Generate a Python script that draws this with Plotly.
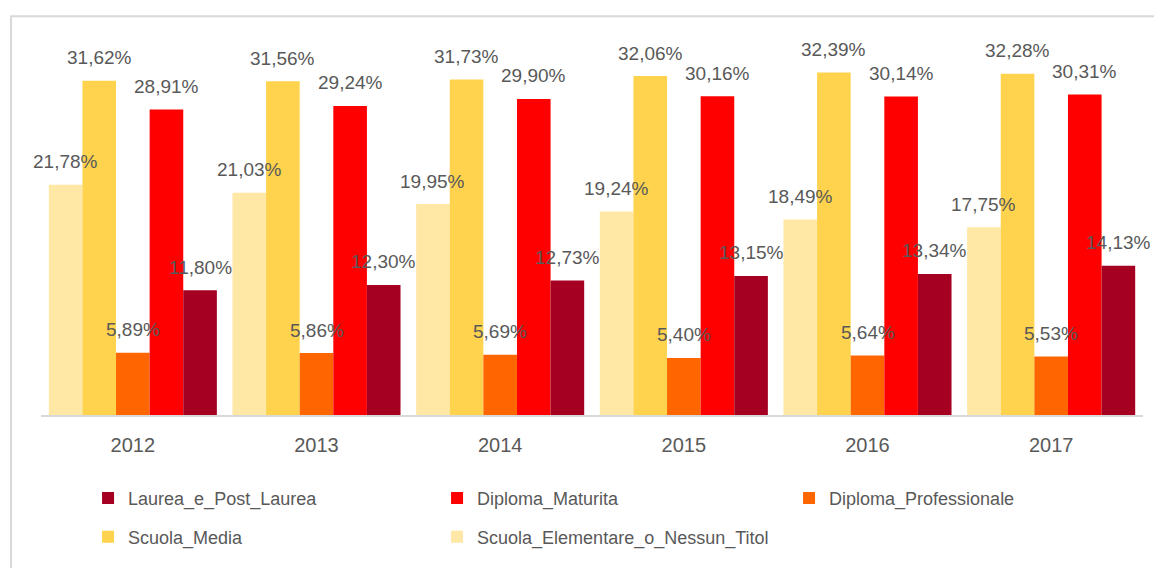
import plotly.graph_objects as go

# ── Data ──────────────────────────────────────────────────────────────────────
years = ['2012', '2013', '2014', '2015', '2016', '2017']

# bar order inside each year group (left → right)
series_names = [
    'Scuola_Elementare_o_Nessun_Titol',
    'Scuola_Media',
    'Diploma_Professionale',
    'Diploma_Maturita',
    'Laurea_e_Post_Laurea',
]

elementare   = [21.78, 21.03, 19.95, 19.24, 18.49, 17.75]
media        = [31.62, 31.56, 31.73, 32.06, 32.39, 32.28]
professional = [5.89, 5.86, 5.69, 5.40, 5.64, 5.53]
maturita     = [28.91, 29.24, 29.90, 30.16, 30.14, 30.31]
laurea       = [11.80, 12.30, 12.73, 13.15, 13.34, 14.13]

series_values = [elementare, media, professional, maturita, laurea]
series_colors = ['#FFE7A6', '#FFD34D', '#FF6600', '#FF0000', '#A50021']
# legend rows/columns as in the original
series_legend = ['legend2', 'legend2', 'legend3', 'legend', 'legend']

TXT = '#595959'
FONT = 'Liberation Sans'
BARGAP = 0.085


def fmt(v):
    return f"{v:.2f}".replace('.', ',') + '%'


# ── Figure ────────────────────────────────────────────────────────────────────
fig = go.Figure()

for name, vals, col, leg in zip(series_names, series_values, series_colors, series_legend):
    fig.add_trace(go.Bar(
        x=years, y=vals, name=name,
        marker=dict(color=col, line=dict(width=0)),
        legend=leg,
    ))

# data labels, centred over each bar and lifted as in the original
n = len(series_names)
bw = (1 - BARGAP) / n
annotations = []
for k, vals in enumerate(series_values):
    off = -(1 - BARGAP) / 2 + (k + 0.5) * bw
    for i, v in enumerate(vals):
        annotations.append(dict(
            x=i + off, y=v, xref='x', yref='y',
            text=fmt(v), showarrow=False,
            yanchor='middle', yshift=23,
            font=dict(family=FONT, size=19, color=TXT),
        ))

legend_style = dict(
    orientation='h', xanchor='left', yanchor='top',
    traceorder='reversed', entrywidth=304,
    font=dict(family=FONT, size=18, color=TXT),
    bgcolor='rgba(0,0,0,0)',
)

# page body keeps an 8px margin, so the figure is 8px smaller each way
fig.update_layout(
    width=1154, height=560,
    margin=dict(l=33, r=19, t=37, b=151),
    paper_bgcolor='white', plot_bgcolor='white',
    barmode='group', bargap=BARGAP, bargroupgap=0,
    font=dict(family=FONT, color=TXT),
    annotations=annotations,
    legend=dict(legend_style, x=0.0427, y=-0.175),
    legend2=dict(legend_style, x=0.0427, y=-0.28),
    legend3=dict(legend_style, x=0.6788, y=-0.175, entrywidth=0),
    xaxis=dict(
        range=[-0.5, len(years) - 0.5],
        showline=True, linecolor='#D9D9D9', linewidth=2,
        showgrid=False, ticks='', ticklabelstandoff=11,
        tickfont=dict(family=FONT, size=20, color=TXT),
    ),
    yaxis=dict(range=[0, 35], visible=False, showgrid=False),
    shapes=[dict(
        type='rect', xref='paper', yref='paper',
        x0=-0.0272, x1=1.05, y0=-0.6, y1=1.078,
        line=dict(color='#D9D9D9', width=2),
        fillcolor='rgba(0,0,0,0)', layer='below',
    )],
)

fig.write_html("out.html")
